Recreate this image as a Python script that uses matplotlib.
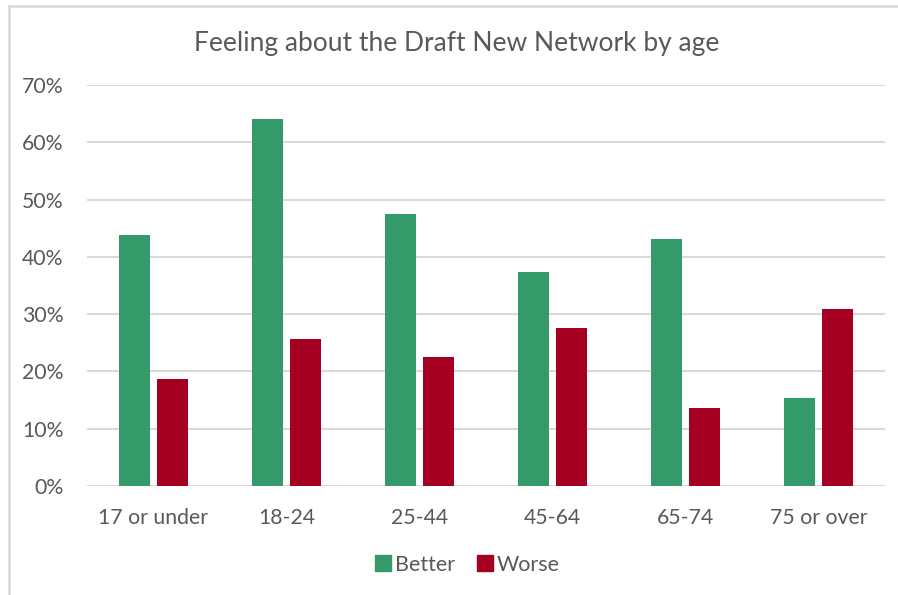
import matplotlib.pyplot as plt
import numpy as np
from matplotlib.lines import Line2D
from matplotlib.ticker import PercentFormatter

# Share of respondents by age group
age_groups = ["17 or under", "18-24", "25-44", "45-64", "65-74", "75 or over"]
better = [43.8, 64.1, 47.5, 37.4, 43.1, 15.3]
worse = [18.7, 25.6, 22.5, 27.5, 13.6, 30.9]

GREEN = "#359a69"
RED = "#a50021"
TEXT = "#595959"
GRID = "#d9d9d9"

plt.rcParams['font.family'] = ['Lato', 'DejaVu Sans']

fig = plt.figure(figsize=(8.98, 5.95), dpi=100)
ax = fig.add_axes([87 / 898, 1 - 486 / 595, (885 - 87) / 898, (486 - 85) / 595])

x = np.arange(len(age_groups))
w = 0.228
off = 0.143
ax.bar(x - off, better, w, color=GREEN, label="Better", zorder=3)
ax.bar(x + off, worse, w, color=RED, label="Worse", zorder=3)

ax.set_xlim(-0.5, len(age_groups) - 0.5)
ax.set_ylim(0, 70)
ax.set_yticks(np.arange(0, 71, 10))
ax.yaxis.set_major_formatter(PercentFormatter(decimals=0))
ax.grid(axis="y", color=GRID, linewidth=1.5, zorder=0)
ax.set_xticks(x)
ax.set_xticklabels(age_groups)
ax.tick_params(axis="both", length=0, labelsize=15.3, labelcolor=TEXT)
ax.tick_params(axis="x", pad=16)
ax.tick_params(axis="y", pad=17)
for s in ax.spines.values():
    s.set_visible(False)

fig.text(457 / 898, 1 - 43 / 595, "Feeling about the Draft New Network by age",
         ha="center", va="center", fontsize=19, color=TEXT)

handles = [Line2D([], [], marker="s", linestyle="none", markersize=11, color=GREEN),
           Line2D([], [], marker="s", linestyle="none", markersize=11, color=RED)]
fig.legend(handles, ["Better", "Worse"], loc="center", bbox_to_anchor=(466 / 898, 1 - 565 / 595),
           ncol=2, frameon=False, fontsize=15.5, labelcolor=TEXT,
           handletextpad=0.05, columnspacing=0.9, handlelength=1.0)

# light frame around the chart
fig.add_artist(Line2D([8.5 / 898, 8.5 / 898], [0, 1 - 5.5 / 595], color=GRID, linewidth=1.8))
fig.add_artist(Line2D([8.5 / 898, 1], [1 - 5.5 / 595, 1 - 5.5 / 595], color=GRID, linewidth=1.8))

fig.savefig("out.png", dpi=100)
